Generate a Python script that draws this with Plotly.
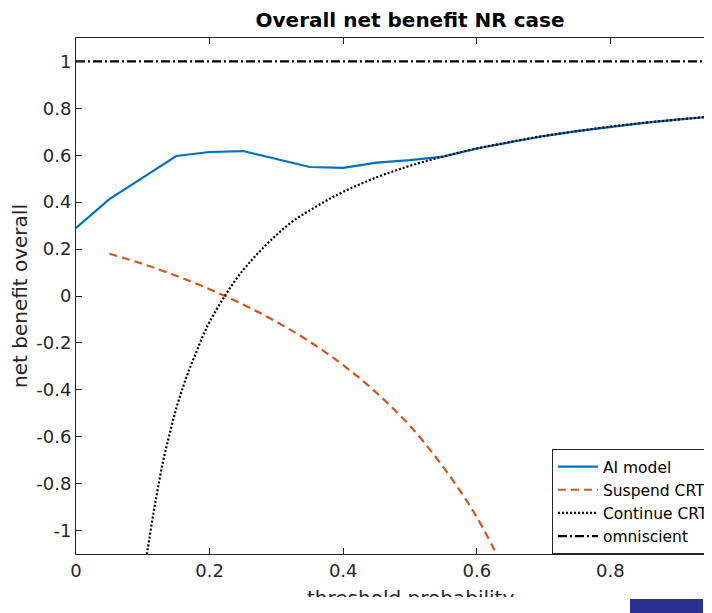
import plotly.graph_objects as go

# ---- data ----
x_ai = [0.00, 0.05, 0.10, 0.15, 0.20, 0.25, 0.30, 0.35, 0.40, 0.45, 0.50, 0.55,
        0.60, 0.65, 0.70, 0.75, 0.80, 0.85, 0.90, 0.95, 1.00]
y_ai = [0.290, 0.413, 0.505, 0.597, 0.614, 0.618, 0.584, 0.550, 0.546, 0.569, 0.579, 0.594,
        0.629, 0.657, 0.682, 0.703, 0.722, 0.738, 0.752, 0.765, 0.777]

x_suspend = [0.05, 0.10, 0.15, 0.20, 0.25, 0.30, 0.35, 0.40, 0.45, 0.50, 0.55, 0.60, 0.65]
y_suspend = [0.180, 0.137, 0.086, 0.029, -0.036, -0.110, -0.195, -0.295, -0.413, -0.554,
             -0.730, -0.943, -1.220]

x_continue = [0.10, 0.11, 0.12, 0.13, 0.14, 0.15, 0.16, 0.17, 0.18, 0.19, 0.20, 0.225,
              0.25, 0.275, 0.30, 0.325, 0.35, 0.375, 0.40, 0.45, 0.50, 0.55, 0.60, 0.65,
              0.70, 0.75, 0.80, 0.85, 0.90, 0.95, 1.00]
y_continue = [-1.22, -1.03, -0.86, -0.71, -0.59, -0.48, -0.39, -0.31, -0.24, -0.17, -0.11, 0.01,
              0.11, 0.19, 0.26, 0.32, 0.365, 0.407, 0.444, 0.506, 0.555, 0.595, 0.629, 0.657,
              0.682, 0.703, 0.722, 0.738, 0.752, 0.765, 0.777]

x_omni = [0.0, 1.0]
y_omni = [1.0, 1.0]

x_tickvals = [0, 0.2, 0.4, 0.6, 0.8, 1.0]
x_ticktext = ["0", "0.2", "0.4", "0.6", "0.8", "1"]
y_tickvals = [-1, -0.8, -0.6, -0.4, -0.2, 0, 0.2, 0.4, 0.6, 0.8, 1]
y_ticktext = ["-1", "-0.8", "-0.6", "-0.4", "-0.2", "0", "0.2", "0.4", "0.6", "0.8", "1"]

title_text = "Overall net benefit NR case"
xlabel = "threshold probability"
ylabel = "net benefit overall"

# ---- figure ----
AX = "#262626"
FONT = "DejaVu Sans"
W, H = 712, 613
ML, MT, MB = 68, 30, 67
PW = W - ML            # plot width in px
PH = H - MT - MB       # plot height in px

fig = go.Figure()
fig.add_trace(go.Scatter(x=x_ai, y=y_ai, mode="lines", name="AI model",
                         line=dict(color="#0072BD", width=2.2)))
fig.add_trace(go.Scatter(x=x_suspend, y=y_suspend, mode="lines", name="Suspend CRT",
                         line=dict(color="#D95319", width=2.2, dash="8px,5px", shape="spline")))
fig.add_trace(go.Scatter(x=x_continue, y=y_continue, mode="lines", name="Continue CRT",
                         line=dict(color="black", width=2.2, dash="2px,2px", shape="spline")))
fig.add_trace(go.Scatter(x=x_omni, y=y_omni, mode="lines", name="omniscient",
                         line=dict(color="black", width=2.2, dash="9px,3px,2px,3px")))

fig.update_layout(
    width=W, height=H,
    margin=dict(l=ML, r=0, t=MT, b=MB),
    paper_bgcolor="white", plot_bgcolor="white",
    font=dict(family=FONT, size=18, color=AX),
    title=dict(text="<b>" + title_text + "</b>", x=402 / W, xref="container", xanchor="center",
               y=1 - 12 / H, yref="container", yanchor="middle",
               font=dict(family=FONT, size=20, color="black")),
    showlegend=True,
    legend=dict(x=0.739, y=0.0, xanchor="left", yanchor="bottom",
                bgcolor="white", bordercolor=AX, borderwidth=1,
                font=dict(family=FONT, size=15.5, color="black"),
                tracegroupgap=0, itemwidth=40),
    xaxis=dict(range=[0, PW / 668], tickvals=x_tickvals, ticktext=x_ticktext,
               showgrid=False, zeroline=False, showline=True, linecolor=AX, linewidth=1,
               mirror="ticks", ticks="inside", ticklen=6, tickcolor=AX,
               tickfont=dict(family=FONT, size=18, color=AX)),
    yaxis=dict(range=[-1.1, 1.1], tickvals=y_tickvals, ticktext=y_ticktext,
               showgrid=False, zeroline=False, showline=True, linecolor=AX, linewidth=1,
               mirror=False, ticks="inside", ticklen=6, tickcolor=AX,
               tickfont=dict(family=FONT, size=18, color=AX),
               title=dict(text=ylabel, font=dict(family=FONT, size=20, color=AX), standoff=5)),
)

# x-axis label (centred on the full, cropped axis)
fig.add_annotation(text=xlabel, xref="paper", yref="paper", x=(402 - ML) / PW, y=-44 / PH,
                   xanchor="center", yanchor="middle", showarrow=False,
                   font=dict(family=FONT, size=20, color=AX))

# white strip where the reference image is cut off below the x label
fig.add_annotation(text=" ", xref="paper", yref="paper", x=(352 - ML) / PW, y=-51 / PH,
                   xanchor="center", yanchor="middle", showarrow=False,
                   width=730, height=16, bgcolor="white", borderpad=0, borderwidth=0)

# small dark-blue artifact at the bottom-right corner of the reference image
fig.add_annotation(text=" ", xref="paper", yref="paper", x=(658.5 - ML) / PW, y=-52 / PH,
                   xanchor="center", yanchor="middle", showarrow=False,
                   width=73, height=14, bgcolor="#2B3192", borderpad=0, borderwidth=0)

fig.write_html("out.html", config={"displayModeBar": False})
